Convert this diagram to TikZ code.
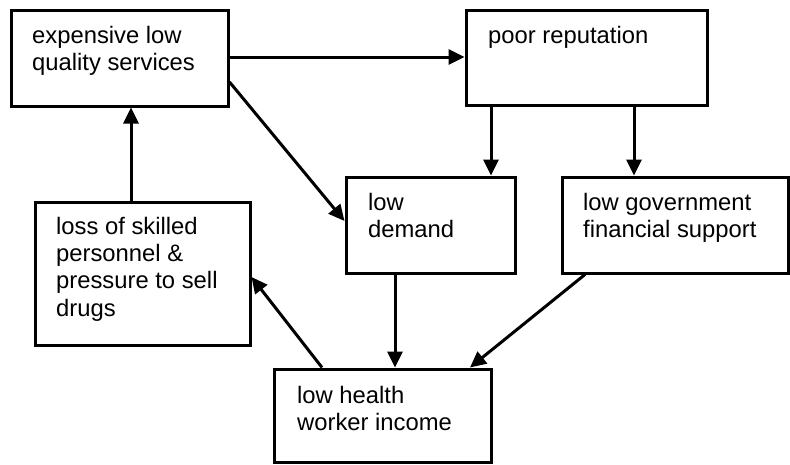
\documentclass[tikz,border=0pt]{standalone}
\usepackage{fontspec}
\setmainfont{Liberation Sans}
\usetikzlibrary{arrows.meta}
\begin{document}
\begin{tikzpicture}[x=1pt,y=-1pt,
  box/.style={draw=black,line width=3pt,rectangle,inner sep=0pt,fill=white},
  txt/.style={anchor=north west,inner sep=0pt,align=left,font=\fontsize{23.8}{27.3}\selectfont},
  arr/.style={line width=3pt,-{Triangle[length=16pt,width=15pt]}}]
\useasboundingbox (0,0) rectangle (790,464);
\fill[white] (0,0) rectangle (790,464);
% boxes
\node[box,minimum width=217,minimum height=96] (b1) at (119.5,58) {};
\node[box,minimum width=241,minimum height=95] (b2) at (586.5,57.5) {};
\node[box,minimum width=169,minimum height=96] (b3) at (430.5,225) {};
\node[box,minimum width=226,minimum height=96] (b4) at (675,225) {};
\node[box,minimum width=215,minimum height=143] (b5) at (142.5,273.5) {};
\node[box,minimum width=217,minimum height=93] (b6) at (382.5,415.5) {};
% texts
\node[txt] (t1) at (32,25) {\rule{0pt}{18pt}expensive low\\quality services};
\node[txt] (t2) at (488,25) {\rule{0pt}{18pt}poor reputation};
\node[txt] (t3) at (368,192) {\rule{0pt}{18pt}low\\demand};
\node[txt] (t4) at (583,192) {\rule{0pt}{18pt}low government\\financial support};
\node[txt] (t5) at (56,216) {\rule{0pt}{18pt}loss of skilled\\personnel \&\\pressure to sell\\drugs};
\node[txt] (t6) at (297,385) {\rule{0pt}{18pt}low health\\worker income};
% connectors
\draw[arr] (b1.east |- 0,57) -- (b2.west |- 0,57);
\draw[arr] (b1.east |- 0,82) -- (b3.west |- 0,221);
\draw[arr] (b2.south -| 491,0) -- (b3.north -| 491,0);
\draw[arr] (b2.south -| 634,0) -- (b4.north -| 634,0);
\draw[arr] (b3.south -| 395,0) -- (b6.north -| 395,0);
\draw[arr] (b4.south -| 585,0) -- (b6.north -| 470,0);
\draw[arr] (b6.north -| 322,0) -- (b5.east |- 0,277);
\draw[arr] (b5.north -| 131,0) -- (b1.south -| 131,0);
\end{tikzpicture}
\end{document}
